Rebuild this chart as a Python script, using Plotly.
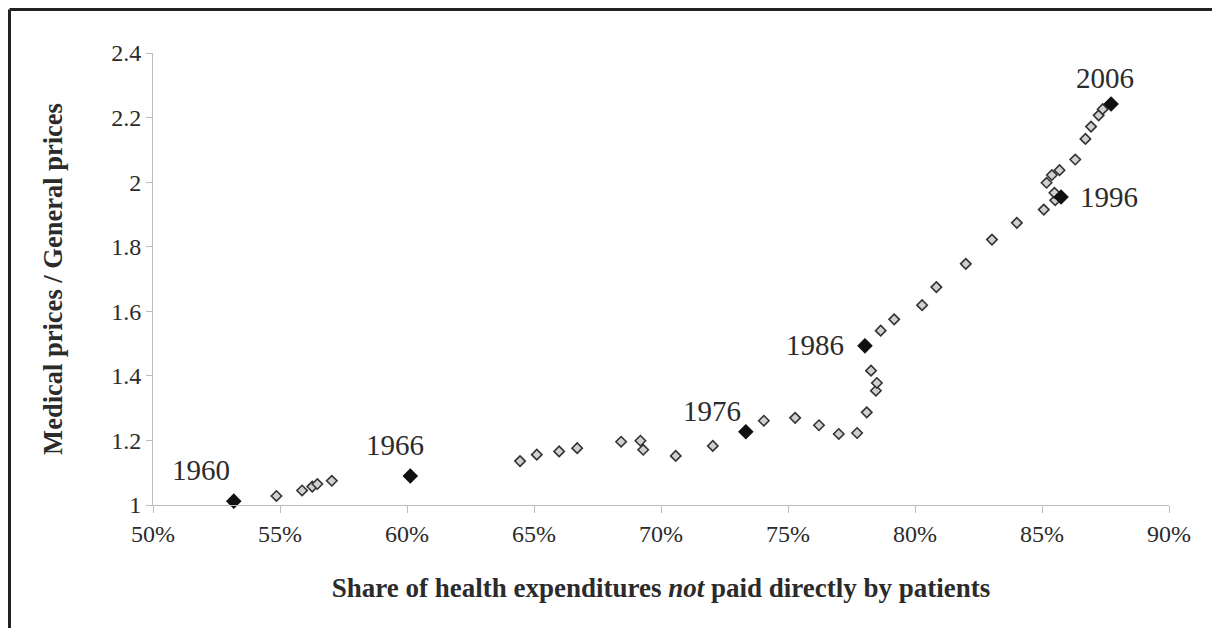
import plotly.graph_objects as go

# share of health spending not paid directly by patients, 1960-2006
years = list(range(1960, 2007))
share = [
    0.5318, 0.5486, 0.5587, 0.5627, 0.5647, 0.5704, 0.6013,
    0.6445, 0.6511, 0.6599, 0.6670, 0.6843, 0.6919, 0.6930, 0.7058, 0.7204,
    0.7334,
    0.7405, 0.7528, 0.7622, 0.7700, 0.7772, 0.7810, 0.7846, 0.7850, 0.7827,
    0.7803,
    0.7865, 0.7918, 0.8028, 0.8084, 0.8200, 0.8303, 0.8401, 0.8507, 0.8552,
    0.8575,
    0.8549, 0.8518, 0.8539, 0.8569, 0.8631, 0.8671, 0.8693, 0.8723, 0.8739,
    0.8772,
]
# medical prices relative to general prices
ratio = [
    1.012, 1.028, 1.045, 1.057, 1.065, 1.075, 1.090,
    1.136, 1.156, 1.166, 1.176, 1.196, 1.199, 1.171, 1.152, 1.183,
    1.227,
    1.261, 1.270, 1.247, 1.220, 1.223, 1.287, 1.354, 1.378, 1.416,
    1.493,
    1.540, 1.575, 1.619, 1.675, 1.747, 1.822, 1.874, 1.915, 1.944,
    1.954,
    1.967, 1.998, 2.022, 2.037, 2.070, 2.134, 2.172, 2.207, 2.226,
    2.242,
]
key_years = [1960, 1966, 1976, 1986, 1996, 2006]
# pixel offsets of each year label from its marker
label_shift = [(-33, 31), (-15, 31), (-34, 21), (-50, 1), (48, 0), (-6, 26)]

font = "Liberation Serif, Times New Roman, serif"
ink = "#2b2b2b"

other_x = [s for y, s in zip(years, share) if y not in key_years]
other_y = [r for y, r in zip(years, ratio) if y not in key_years]
key_x = [share[years.index(y)] for y in key_years]
key_y = [ratio[years.index(y)] for y in key_years]

fig = go.Figure()
fig.add_trace(go.Scatter(
    x=other_x, y=other_y, mode="markers",
    marker=dict(symbol="diamond", size=8, color="#d0d0d0",
                line=dict(color="#333333", width=1.6)),
))
fig.add_trace(go.Scatter(
    x=key_x, y=key_y, mode="markers", cliponaxis=False,
    marker=dict(symbol="diamond", size=12, color="#111111"),
))
for yr, x, y, (dx, dy) in zip(key_years, key_x, key_y, label_shift):
    fig.add_annotation(x=x, y=y, text=str(yr), showarrow=False,
                       xshift=dx, yshift=dy,
                       font=dict(family=font, size=29, color=ink))

W, H = 1212, 620
ml, mr, mt, mb = 145, 51, 45, 123
fig.update_layout(
    width=W, height=H,
    margin=dict(l=ml, r=mr, t=mt, b=mb),
    paper_bgcolor="white", plot_bgcolor="white",
    showlegend=False,
    font=dict(family=font, color=ink, size=24),
    xaxis=dict(
        range=[0.5, 0.9], dtick=0.05, tickformat=".0%",
        showgrid=False, zeroline=False,
        showline=True, linecolor="#bdbdbd", linewidth=1,
        ticks="outside", ticklen=7, tickcolor="#bdbdbd",
        tickfont=dict(size=24),
        title=dict(text="<b>Share of health expenditures <i>not</i> paid directly by patients</b>",
                   font=dict(size=27), standoff=32),
    ),
    yaxis=dict(
        range=[1, 2.4], dtick=0.2,
        showgrid=False, zeroline=False,
        showline=True, linecolor="#bdbdbd", linewidth=1,
        ticks="outside", ticklen=6, tickcolor="#bdbdbd",
        tickfont=dict(size=24),
        title=dict(text="<b>Medical prices / General prices</b>",
                   font=dict(size=26.5), standoff=40),
    ),
)

# dark frame along the left and top edges, as in the scanned figure
pw, ph = W - ml - mr, H - mt - mb
left = (1.5 - ml) / pw
top = (ph + mt - 1.5) / ph
fig.add_shape(type="line", xref="paper", yref="paper", x0=left, x1=left, y0=-0.5, y1=top,
              line=dict(color="#222222", width=3))
fig.add_shape(type="line", xref="paper", yref="paper", x0=left, x1=1.2, y0=top, y1=top,
              line=dict(color="#222222", width=3))

fig.write_html("out.html")
